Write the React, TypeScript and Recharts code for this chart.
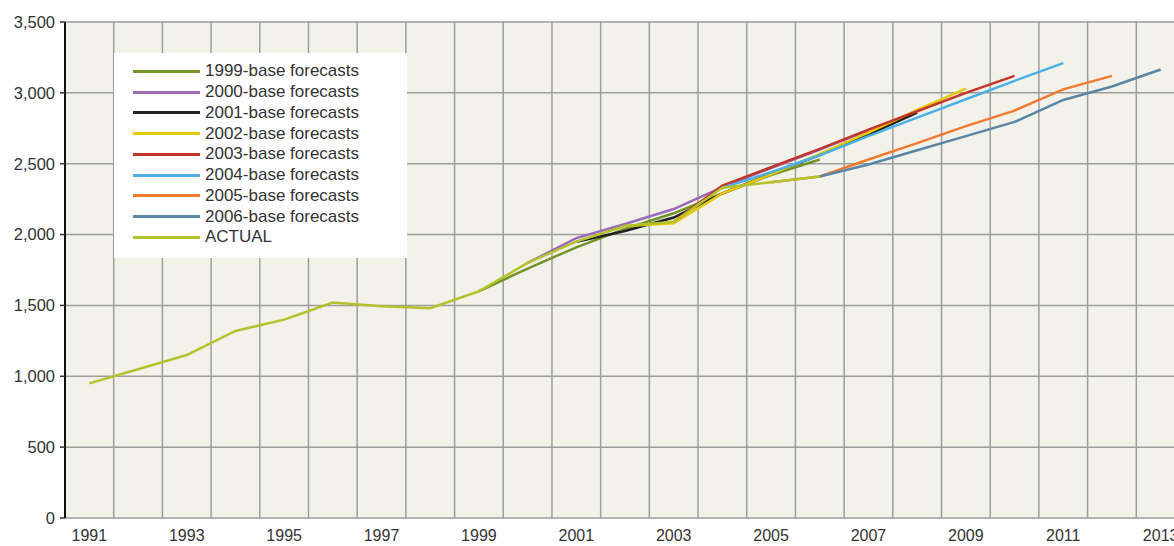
import { LineChart, Line, XAxis, YAxis, CartesianGrid, Legend } from 'recharts'

const years = [
  1991, 1992, 1993, 1994, 1995, 1996, 1997, 1998, 1999, 2000, 2001, 2002,
  2003, 2004, 2005, 2006, 2007, 2008, 2009, 2010, 2011, 2012, 2013,
]
const labelYears = [1991, 1993, 1995, 1997, 1999, 2001, 2003, 2005, 2007, 2009, 2011, 2013]
const yTicks = [0, 500, 1000, 1500, 2000, 2500, 3000, 3500]

// actual runs 1991-2006, each forecast runs from its base year for 8 years
const actual = [950, 1050, 1150, 1320, 1400, 1520, 1495, 1480, 1600, 1800, 1950, 2060, 2090, 2330, 2370, 2410]
const f1999 = [1600, 1760, 1910, 2040, 2150, 2290, 2420, 2530]
const f2000 = [1800, 1975, 2075, 2180, 2335, 2470, 2600, 2735]
const f2001 = [1950, 2025, 2120, 2290, 2430, 2560, 2705, 2860]
const f2002 = [2060, 2080, 2290, 2425, 2570, 2720, 2880, 3030]
const f2003 = [2090, 2345, 2475, 2605, 2740, 2870, 3000, 3120]
const f2004 = [2330, 2440, 2560, 2695, 2825, 2955, 3085, 3210]
const f2005 = [2370, 2410, 2530, 2645, 2765, 2875, 3025, 3120]
const f2006 = [2410, 2495, 2595, 2695, 2795, 2950, 3045, 3165]

const series = [
  { key: 'f1999', name: '1999-base forecasts', start: 1999, values: f1999, color: '#72922a' },
  { key: 'f2000', name: '2000-base forecasts', start: 2000, values: f2000, color: '#9c6bb8' },
  { key: 'f2001', name: '2001-base forecasts', start: 2001, values: f2001, color: '#222222' },
  { key: 'f2002', name: '2002-base forecasts', start: 2002, values: f2002, color: '#e6c800' },
  { key: 'f2003', name: '2003-base forecasts', start: 2003, values: f2003, color: '#c3352b' },
  { key: 'f2004', name: '2004-base forecasts', start: 2004, values: f2004, color: '#4bb0e6' },
  { key: 'f2005', name: '2005-base forecasts', start: 2005, values: f2005, color: '#f47a30' },
  { key: 'f2006', name: '2006-base forecasts', start: 2006, values: f2006, color: '#5a86a6' },
  { key: 'actual', name: 'ACTUAL', start: 1991, values: actual, color: '#b4c32b' },
]

const data = years.map((year) => {
  const row: Record<string, number> = { year }
  series.forEach((s) => {
    const v = s.values[year - s.start]
    if (year >= s.start && v !== undefined) row[s.key] = v
  })
  return row
})

// gridlines sit between the years
const gridTicks = [...years.map((y) => y - 0.5), years[years.length - 1] + 0.5]

const renderLegend = (props: any) => (
  <div style={{ background: '#fff', width: 293, height: 205, boxSizing: 'border-box', paddingTop: 8, paddingLeft: 19 }}>
    {(props.payload || []).map((p: any) => (
      <div key={p.value} style={{ display: 'flex', alignItems: 'center', height: 20.75 }}>
        <span style={{ display: 'inline-block', width: 67, height: 3, background: p.color, marginRight: 5 }} />
        <span style={{ fontSize: 17, color: '#333', whiteSpace: 'nowrap' }}>{p.value}</span>
      </div>
    ))}
  </div>
)

export default function App() {
  return (
    <div style={{ position: 'absolute', left: 0, top: 0, width: 1174, height: 546, overflow: 'hidden', background: '#fff' }}>
      <LineChart
        width={1190}
        height={546}
        data={data}
        margin={{ top: 22, right: 5, bottom: 0, left: 0 }}
        style={{ fontFamily: '"Liberation Sans", Arial, sans-serif' }}
      >
        <CartesianGrid stroke="#9d9d9d" strokeWidth={1.5} fill="#f2f2eb" fillOpacity={1} />
        <XAxis
          dataKey="year" type="number" domain={[1990.5, 2013.5]} ticks={gridTicks} allowDataOverflow
          height={0} tickSize={6} tickFormatter={() => ''}
          axisLine={{ stroke: '#111', strokeWidth: 2 }} tickLine={{ stroke: '#333', strokeWidth: 1.5 }}
        />
        <XAxis
          xAxisId="lab" dataKey="year" type="number" domain={[1990.5, 2013.5]} ticks={labelYears}
          allowDataOverflow interval={0} height={28} tickSize={0} tickMargin={12}
          axisLine={false} tickLine={false} tick={{ fill: '#333', fontSize: 16 }}
        />
        <YAxis
          width={65} domain={[0, 3500]} ticks={yTicks} interval={0} tickSize={5} tickMargin={5}
          tickFormatter={(v: number) => v.toLocaleString('en-US')}
          axisLine={{ stroke: '#111', strokeWidth: 2 }} tickLine={{ stroke: '#333', strokeWidth: 1.5 }}
          tick={{ fill: '#333', fontSize: 16.5 }}
        />
        <Legend
          layout="vertical" align="center" verticalAlign="middle" width={293} height={205}
          wrapperStyle={{ left: 114, top: 53, width: 293, height: 205 }}
          content={renderLegend}
        />
        {series.map((s) => (
          <Line
            key={s.key} type="linear" dataKey={s.key} name={s.name} stroke={s.color} strokeWidth={2.5}
            dot={false} activeDot={false} isAnimationActive={false}
          />
        ))}
      </LineChart>
    </div>
  )
}
